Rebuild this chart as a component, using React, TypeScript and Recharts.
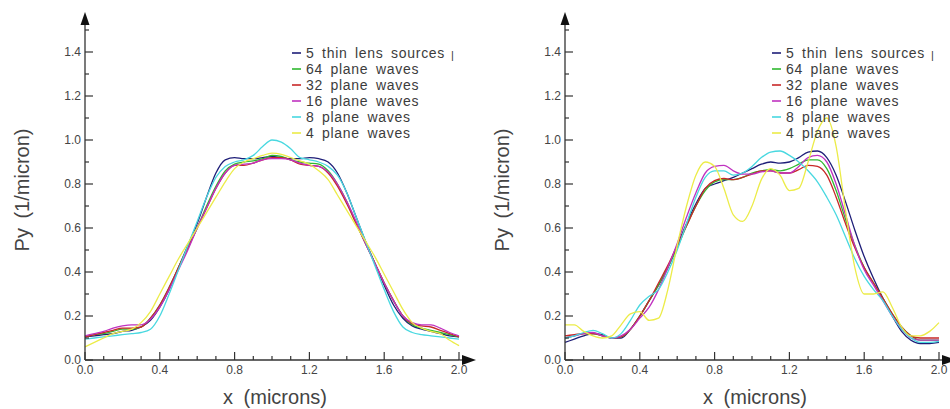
import React from "react";
import { LineChart, Line, XAxis, YAxis, Legend } from "recharts";

const xValues = [
  0, 0.05, 0.1, 0.15, 0.2, 0.25, 0.3, 0.35, 0.4, 0.45, 0.5, 0.55, 0.6, 0.65,
  0.7, 0.75, 0.8, 0.85, 0.9, 0.95, 1.0, 1.05, 1.1, 1.15, 1.2, 1.25, 1.3, 1.35,
  1.4, 1.45, 1.5, 1.55, 1.6, 1.65, 1.7, 1.75, 1.8, 1.85, 1.9, 1.95, 2.0,
];

const seriesNames = [
  "5 thin lens sources",
  "64 plane waves",
  "32 plane waves",
  "16 plane waves",
  "8 plane waves",
  "4 plane waves",
];
const seriesKeys = ["thin5", "pw64", "pw32", "pw16", "pw8", "pw4"];
const seriesColors = ["#1e1e78", "#30b830", "#c82828", "#c032c0", "#48d8e0", "#ecec48"];

const xTicks = [0, 0.1, 0.2, 0.3, 0.4, 0.5, 0.6, 0.7, 0.8, 0.9, 1.0, 1.1, 1.2, 1.3, 1.4, 1.5, 1.6, 1.7, 1.8, 1.9, 2.0];
const xLabelTicks = [0, 0.4, 0.8, 1.2, 1.6, 2.0];
const yTicks = [0, 0.1, 0.2, 0.3, 0.4, 0.5, 0.6, 0.7, 0.8, 0.9, 1.0, 1.1, 1.2, 1.3, 1.4, 1.5];
const yLabelTicks = [0, 0.2, 0.4, 0.6, 0.8, 1.0, 1.2, 1.4];

// left panel
const leftThin5 = [0.105,0.11,0.115,0.12,0.13,0.135,0.15,0.18,0.24,0.32,0.42,0.52,0.62,0.74,0.85,0.91,0.92,0.915,0.915,0.92,0.925,0.92,0.915,0.915,0.92,0.915,0.9,0.85,0.76,0.65,0.54,0.44,0.34,0.25,0.19,0.155,0.14,0.13,0.12,0.11,0.105];
const leftPw64 = [0.105,0.115,0.12,0.13,0.14,0.14,0.15,0.19,0.25,0.33,0.42,0.51,0.6,0.7,0.79,0.86,0.89,0.9,0.905,0.915,0.93,0.925,0.91,0.9,0.895,0.89,0.86,0.8,0.72,0.62,0.53,0.44,0.35,0.27,0.2,0.16,0.145,0.135,0.125,0.115,0.105];
const leftPw32 = [0.105,0.115,0.125,0.135,0.145,0.145,0.15,0.19,0.25,0.33,0.42,0.51,0.6,0.69,0.78,0.85,0.885,0.885,0.895,0.91,0.92,0.92,0.91,0.89,0.885,0.88,0.85,0.79,0.71,0.62,0.53,0.44,0.35,0.27,0.2,0.165,0.155,0.15,0.135,0.12,0.105];
const leftPw16 = [0.11,0.12,0.13,0.145,0.155,0.16,0.16,0.185,0.24,0.32,0.41,0.5,0.6,0.69,0.78,0.85,0.885,0.89,0.895,0.91,0.915,0.915,0.91,0.895,0.885,0.88,0.855,0.8,0.72,0.63,0.53,0.44,0.35,0.27,0.2,0.17,0.16,0.16,0.145,0.125,0.11];
const leftPw8 = [0.095,0.1,0.105,0.11,0.115,0.12,0.125,0.14,0.2,0.3,0.41,0.52,0.63,0.74,0.83,0.88,0.9,0.91,0.93,0.97,1.0,0.99,0.96,0.92,0.91,0.9,0.88,0.84,0.76,0.65,0.54,0.43,0.32,0.22,0.15,0.125,0.115,0.11,0.105,0.1,0.095];
const leftPw4 = [0.06,0.08,0.1,0.12,0.13,0.14,0.17,0.22,0.3,0.38,0.46,0.53,0.6,0.67,0.74,0.81,0.87,0.9,0.915,0.93,0.94,0.935,0.92,0.905,0.89,0.86,0.82,0.75,0.68,0.61,0.54,0.47,0.39,0.31,0.23,0.17,0.145,0.13,0.12,0.09,0.065];

// right panel
const rightThin5 = [0.08,0.095,0.11,0.12,0.115,0.1,0.1,0.14,0.2,0.27,0.34,0.42,0.52,0.62,0.71,0.78,0.8,0.815,0.83,0.85,0.87,0.89,0.9,0.895,0.9,0.92,0.945,0.95,0.92,0.84,0.72,0.59,0.47,0.37,0.28,0.2,0.13,0.09,0.075,0.075,0.08];
const rightPw64 = [0.1,0.11,0.12,0.12,0.11,0.1,0.105,0.14,0.2,0.27,0.34,0.42,0.51,0.61,0.7,0.77,0.81,0.82,0.82,0.83,0.85,0.86,0.865,0.86,0.87,0.89,0.91,0.91,0.87,0.77,0.64,0.52,0.42,0.35,0.28,0.21,0.15,0.11,0.09,0.09,0.09];
const rightPw32 = [0.11,0.115,0.12,0.12,0.11,0.1,0.105,0.14,0.2,0.27,0.35,0.43,0.52,0.61,0.7,0.78,0.815,0.825,0.82,0.83,0.845,0.86,0.86,0.85,0.85,0.865,0.885,0.88,0.84,0.74,0.62,0.51,0.42,0.35,0.28,0.21,0.15,0.11,0.1,0.1,0.1];
const rightPw16 = [0.1,0.11,0.12,0.125,0.11,0.1,0.11,0.14,0.19,0.24,0.32,0.42,0.53,0.65,0.76,0.85,0.88,0.885,0.86,0.845,0.845,0.855,0.86,0.85,0.85,0.88,0.92,0.93,0.9,0.8,0.66,0.52,0.41,0.34,0.27,0.2,0.14,0.1,0.09,0.09,0.09];
const rightPw8 = [0.1,0.11,0.125,0.135,0.12,0.1,0.12,0.18,0.25,0.29,0.32,0.4,0.5,0.62,0.74,0.83,0.86,0.86,0.84,0.85,0.88,0.92,0.945,0.95,0.93,0.9,0.86,0.81,0.74,0.66,0.56,0.46,0.38,0.32,0.27,0.2,0.14,0.1,0.08,0.08,0.085];
const rightPw4 = [0.16,0.16,0.13,0.11,0.1,0.11,0.16,0.21,0.22,0.18,0.19,0.32,0.52,0.7,0.84,0.9,0.88,0.78,0.66,0.63,0.7,0.82,0.87,0.84,0.77,0.78,0.9,1.04,1.1,0.97,0.68,0.42,0.3,0.3,0.31,0.24,0.15,0.11,0.11,0.13,0.17];

const FONT = "'Liberation Sans', Arial, sans-serif";
const AXIS = "#333";

function buildRows(cols: number[][]) {
  return xValues.map((x, i) => {
    const row: Record<string, number> = { x };
    seriesKeys.forEach((k, j) => {
      row[k] = cols[j][i];
    });
    return row;
  });
}

const leftRows = buildRows([leftThin5, leftPw64, leftPw32, leftPw16, leftPw8, leftPw4]);
const rightRows = buildRows([rightThin5, rightPw64, rightPw32, rightPw16, rightPw8, rightPw4]);

const isIn = (v: number, list: number[]) => list.some((t) => Math.abs(t - v) < 1e-6);

function XTick(props: any) {
  const { x, y, payload } = props;
  const major = isIn(payload.value, xLabelTicks);
  return (
    <g>
      <line x1={x} y1={y} x2={x} y2={y - (major ? 8 : 4)} stroke={AXIS} strokeWidth={1.2} />
      {major && (
        <text x={x} y={y + 14} textAnchor="middle" fontSize={12} fill="#444" fontFamily={FONT}>
          {Number(payload.value).toFixed(1)}
        </text>
      )}
    </g>
  );
}

function YTick(props: any) {
  const { x, y, payload } = props;
  const major = isIn(payload.value, yLabelTicks);
  return (
    <g>
      <line x1={x} y1={y} x2={x + (major ? 8 : 4)} y2={y} stroke={AXIS} strokeWidth={1.2} />
      {major && (
        <text x={x - 4} y={y + 4} textAnchor="end" fontSize={12} fill="#444" fontFamily={FONT}>
          {Number(payload.value).toFixed(1)}
        </text>
      )}
    </g>
  );
}

function XTitle(props: any) {
  const { x, y, width } = props.viewBox;
  const end = x + width;
  return (
    <g>
      <line x1={end} y1={y} x2={end + 5} y2={y} stroke={AXIS} strokeWidth={1.3} />
      <polygon points={`${end + 3},${y - 5} ${end + 17},${y} ${end + 3},${y + 5}`} fill="#111" />
      <text
        x={x + width / 2 + 3}
        y={y + 44}
        textAnchor="middle"
        fontSize={20}
        fill="#444"
        fontFamily={FONT}
        style={{ wordSpacing: 5 }}
      >
        x (microns)
      </text>
    </g>
  );
}

function YTitle(props: any) {
  const { x, y, width, height } = props.viewBox;
  const ax = x + width;
  return (
    <g>
      <line x1={ax} y1={y} x2={ax} y2={y - 6} stroke={AXIS} strokeWidth={1.3} />
      <polygon points={`${ax - 4.5},${y - 5} ${ax},${y - 18} ${ax + 4.5},${y - 5}`} fill="#111" />
      <text
        transform={`translate(${x + 29}, ${y + height / 2 - 5}) rotate(-90)`}
        textAnchor="middle"
        fontSize={20}
        fill="#444"
        fontFamily={FONT}
        style={{ wordSpacing: 4 }}
      >
        Py (1/micron)
      </text>
    </g>
  );
}

function LegendBox() {
  return (
    <div style={{ fontFamily: FONT, fontSize: 14, color: "#3c3c3c", lineHeight: "16px" }}>
      {seriesNames.map((n, i) => (
        <div key={n} style={{ display: "flex", alignItems: "center", height: 16, whiteSpace: "nowrap" }}>
          <svg width={9} height={4} style={{ marginRight: 5, display: "block" }}>
            <line x1={0} y1={2} x2={9} y2={2} stroke={seriesColors[i]} strokeWidth={1.6} />
          </svg>
          <span style={{ letterSpacing: 0.7, wordSpacing: 3 }}>{n}</span>
          {i === 0 && <span style={{ marginLeft: 6, fontSize: 11, paddingTop: 4 }}>|</span>}
        </div>
      ))}
    </div>
  );
}

function Panel({ rows }: { rows: Record<string, number>[] }) {
  return (
    <LineChart width={480} height={409} data={rows} margin={{ top: 30, right: 21, bottom: 0, left: 0 }}>
      <XAxis
        dataKey="x"
        type="number"
        domain={[0, 2]}
        ticks={xTicks}
        interval={0}
        height={49}
        tickSize={0}
        tickMargin={0}
        tickLine={false}
        axisLine={{ stroke: AXIS, strokeWidth: 1.3 }}
        tick={<XTick />}
        label={<XTitle />}
      />
      <YAxis
        type="number"
        domain={[0, 1.5]}
        ticks={yTicks}
        interval={0}
        width={85}
        tickSize={0}
        tickMargin={0}
        tickLine={false}
        axisLine={{ stroke: AXIS, strokeWidth: 1.3 }}
        tick={<YTick />}
        label={<YTitle />}
      />
      <Legend
        layout="vertical"
        align="center"
        verticalAlign="middle"
        wrapperStyle={{ top: 45, left: 292, width: 185 }}
        content={<LegendBox />}
      />
      {seriesKeys.map((k, i) => (
        <Line
          key={k}
          type="monotone"
          dataKey={k}
          name={seriesNames[i]}
          stroke={seriesColors[i]}
          strokeWidth={1.3}
          dot={false}
          isAnimationActive={false}
        />
      ))}
    </LineChart>
  );
}

export default function App() {
  return (
    <div
      style={{
        position: "absolute",
        left: 0,
        top: 0,
        width: 950,
        height: 409,
        overflow: "hidden",
        background: "#fff",
      }}
    >
      <div style={{ position: "absolute", left: 0, top: 0 }}>
        <Panel rows={leftRows} />
      </div>
      <div style={{ position: "absolute", left: 480, top: 0 }}>
        <Panel rows={rightRows} />
      </div>
    </div>
  );
}
